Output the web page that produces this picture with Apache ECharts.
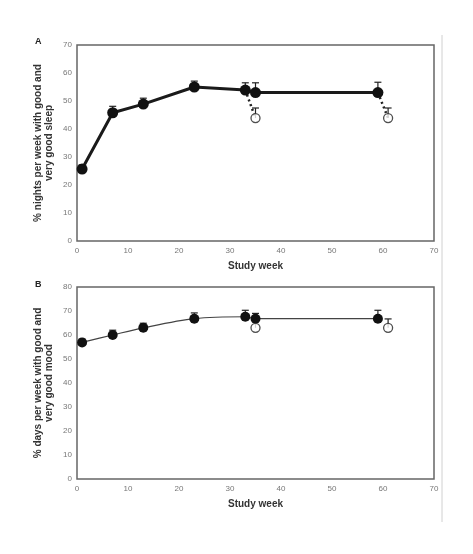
<!DOCTYPE html>
<html>
<head>
<meta charset="utf-8">
<script src="https://cdn.jsdelivr.net/npm/echarts@6/dist/echarts.min.js"></script>
<style>
  html, body { margin: 0; padding: 0; background: #fff; }
  #main { width: 473px; height: 554px; }
</style>
</head>
<body>
<div id="main"></div>
<script>
// study weeks
var weeks = [1, 7, 13, 23, 33, 35, 59];
var offWeeks = [35, 61];

// panel A: sleep
var sleepMean = [25.7, 45.8, 48.9, 55, 53.9, 53, 53];
var sleepTop = [27.2, 48.1, 51, 57.1, 56.5, 56.5, 56.7];
var sleepOffMean = [43.9, 43.9];
var sleepOffTop = [47.5, 47.5];

// panel B: mood
var moodMean = [56.9, 60, 63, 66.8, 67.6, 66.8, 66.8];
var moodTop = [58.3, 62, 64.9, 69.2, 70.3, 69, 70.3];
var moodOffMean = [63, 63];
var moodOffTop = [66.5, 66.7];

var xTicks = [0, 10, 20, 30, 40, 50, 60, 70];

var chartDom = document.getElementById('main');
var myChart = echarts.init(chartDom);
var font = 'Liberation Sans, Arial, sans-serif';

function pairs(xs, ys) {
    return xs.map(function (x, i) { return [x, ys[i]]; });
}
function errData(xs, m, t) {
    return xs.map(function (x, i) { return [x, m[i], t[i]]; });
}

function errBar(params, api) {
    var x = api.value(0);
    var p1 = api.coord([x, api.value(1)]);
    var p2 = api.coord([x, api.value(2)]);
    var st = { stroke: '#222', lineWidth: 1.2 };
    return {
        type: 'group',
        children: [
            { type: 'line', shape: { x1: p1[0], y1: p1[1], x2: p2[0], y2: p2[1] }, style: st },
            { type: 'line', shape: { x1: p2[0] - 3.5, y1: p2[1], x2: p2[0] + 3.5, y2: p2[1] }, style: st }
        ]
    };
}

function xAx(idx) {
    return {
        type: 'value', gridIndex: idx, min: 0, max: 70, interval: 10,
        name: 'Study week', nameLocation: 'middle', nameGap: 20,
        nameTextStyle: { fontFamily: font, fontSize: 10, fontWeight: 'bold', color: '#333' },
        axisLine: { show: false }, axisTick: { show: false }, splitLine: { show: false },
        axisLabel: { fontFamily: font, fontSize: 8, color: '#777', margin: 6,
            formatter: function (v) { return xTicks.indexOf(v) >= 0 ? v : ''; } }
    };
}
function yAx(idx, max, title) {
    return {
        type: 'value', gridIndex: idx, min: 0, max: max, interval: 10,
        name: title, nameLocation: 'middle', nameGap: 22, nameRotate: 90,
        nameMoveOverlap: false,
        nameTextStyle: { fontFamily: font, fontSize: 10, fontWeight: 'bold', color: '#333', lineHeight: 11 },
        axisLine: { show: false }, axisTick: { show: false }, splitLine: { show: false },
        axisLabel: { fontFamily: font, fontSize: 8, color: '#777', margin: 5 }
    };
}

function panel(idx, mean, top, offMean, offTop, thick, smooth, size) {
    var out = [];
    out.push({
        type: 'custom', xAxisIndex: idx, yAxisIndex: idx, renderItem: errBar,
        data: errData(weeks, mean, top), z: 1, silent: true
    });
    out.push({
        type: 'custom', xAxisIndex: idx, yAxisIndex: idx, renderItem: errBar,
        data: errData(offWeeks, offMean, offTop), z: 1, silent: true
    });
    if (thick) {
        // dotted connectors to off-treatment points
        out.push({
            type: 'line', xAxisIndex: idx, yAxisIndex: idx, symbol: 'none', z: 2,
            data: [[weeks[4], mean[4]], [offWeeks[0], offMean[0]]],
            lineStyle: { color: '#222', width: 2.5, type: [2, 3] }
        });
        out.push({
            type: 'line', xAxisIndex: idx, yAxisIndex: idx, symbol: 'none', z: 2,
            data: [[weeks[6], mean[6]], [offWeeks[1], offMean[1]]],
            lineStyle: { color: '#222', width: 2.5, type: [2, 3] }
        });
    }
    out.push({
        type: 'line', xAxisIndex: idx, yAxisIndex: idx, z: 3,
        data: pairs(weeks, mean), smooth: smooth,
        symbol: 'circle', symbolSize: size,
        lineStyle: { color: thick ? '#1a1a1a' : '#444', width: thick ? 3 : 1.2 },
        itemStyle: { color: '#111', borderWidth: 0 }
    });
    out.push({
        type: 'scatter', xAxisIndex: idx, yAxisIndex: idx, z: 4,
        data: pairs(offWeeks, offMean), symbol: 'circle', symbolSize: 9,
        itemStyle: { color: '#fff', borderColor: '#222', borderWidth: 1.3 }
    });
    return out;
}

var option = {
    backgroundColor: '#fff',
    animation: false,
    grid: [
        { left: 77, right: 39, top: 45, height: 196, show: true, borderColor: '#666', borderWidth: 1.5 },
        { left: 77, right: 39, top: 287, height: 192, show: true, borderColor: '#666', borderWidth: 1.5 }
    ],
    xAxis: [xAx(0), xAx(1)],
    yAxis: [
        yAx(0, 70, '% nights per week with good and\nvery good sleep'),
        yAx(1, 80, '% days per week with good and\nvery good mood')
    ],
    graphic: [
        { type: 'text', left: 35, top: 37, style: { text: 'A', fontFamily: font, fontSize: 9, fontWeight: 'bold', fill: '#222' } },
        { type: 'text', left: 35, top: 280, style: { text: 'B', fontFamily: font, fontSize: 9, fontWeight: 'bold', fill: '#222' } },
        { type: 'line', shape: { x1: 442, y1: 35, x2: 442, y2: 522 }, style: { stroke: '#d0d0d0', lineWidth: 1 } }
    ],
    series: [].concat(
        panel(0, sleepMean, sleepTop, sleepOffMean, sleepOffTop, true, false, 11),
        panel(1, moodMean, moodTop, moodOffMean, moodOffTop, false, 0.3, 10)
    )
};

option && myChart.setOption(option);
</script>
</body>
</html>
